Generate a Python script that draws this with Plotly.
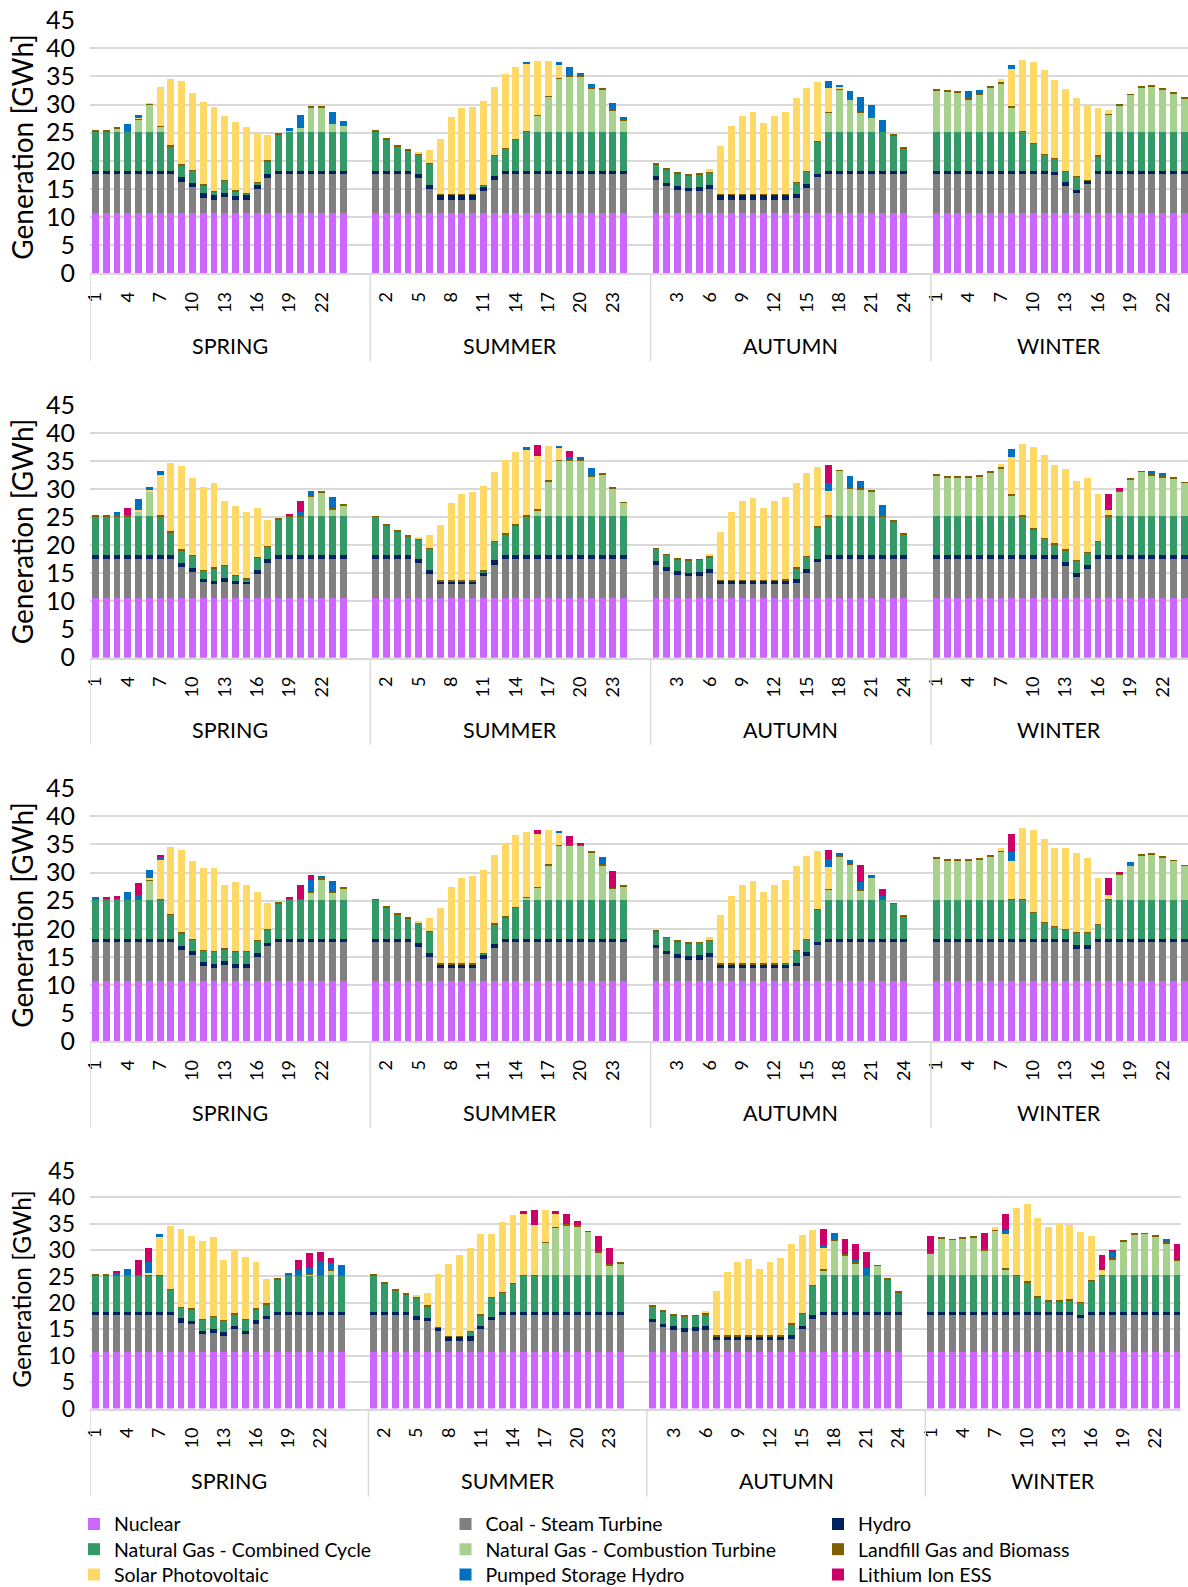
import plotly.graph_objects as go

FONT = "Lato"
SEASONS = ["SPRING", "SUMMER", "AUTUMN", "WINTER"]
HOURS = [1, 2, 3, 4, 5, 6, 7, 8, 9, 10, 11, 12, 13, 14, 15, 16, 17, 18, 19, 20, 21, 22, 23, 24]
SERIES = ["Nuclear", "Coal - Steam Turbine", "Hydro", "Natural Gas - Combined Cycle",
          "Natural Gas - Combustion Turbine", "Landfill Gas and Biomass",
          "Solar Photovoltaic", "Pumped Storage Hydro", "Lithium Ion ESS"]
COLORS = ["#CC66FF", "#808080", "#002060", "#339966", "#A9D18E", "#7F6000",
          "#FFD966", "#0070C0", "#CC0066"]

# ---------------- data (GWh), 96 values = 4 seasons x 24 hours ----------------
NUCLEAR = [
    10.7, 10.7, 10.7, 10.7, 10.7, 10.7, 10.7, 10.7, 10.7, 10.7, 10.7, 10.7, 10.7, 10.7, 10.7, 10.7, 10.7, 10.7, 10.7, 10.7, 10.7, 10.7, 10.7, 10.7,
    10.7, 10.7, 10.7, 10.7, 10.7, 10.7, 10.7, 10.7, 10.7, 10.7, 10.7, 10.7, 10.7, 10.7, 10.7, 10.7, 10.7, 10.7, 10.7, 10.7, 10.7, 10.7, 10.7, 10.7,
    10.7, 10.7, 10.7, 10.7, 10.7, 10.7, 10.7, 10.7, 10.7, 10.7, 10.7, 10.7, 10.7, 10.7, 10.7, 10.7, 10.7, 10.7, 10.7, 10.7, 10.7, 10.7, 10.7, 10.7,
    10.7, 10.7, 10.7, 10.7, 10.7, 10.7, 10.7, 10.7, 10.7, 10.7, 10.7, 10.7, 10.7, 10.7, 10.7, 10.7, 10.7, 10.7, 10.7, 10.7, 10.7, 10.7, 10.7, 10.7,
]
LANDFILL = [
    .15, .15, .15, .15, .15, .15, .15, .15, .15, .15, .15, .15, .15, .15, .15, .15, .15, .15, .15, .15, .15, .15, .15, .15,
    .15, .15, .15, .15, .15, .15, .15, .15, .15, .15, .15, .15, .15, .15, .15, .15, .15, .15, .15, .15, .15, .15, .15, .15,
    .15, .15, .15, .15, .15, .15, .15, .15, .15, .15, .15, .15, .15, .15, .15, .15, .15, .15, .15, .15, .15, .15, .15, .15,
    .15, .15, .15, .15, .15, .15, .15, .15, .15, .15, .15, .15, .15, .15, .15, .15, .15, .15, .15, .15, .15, .15, .15, .15,
]

# ---- Panel 1 ----
P1_COAL = [
    6.95, 6.95, 6.95, 6.95, 6.95, 6.95, 6.95, 6.95, 5.55, 4.6, 2.75, 2.3, 2.8, 2.3, 2.3, 4.2, 6.2, 6.95, 6.95, 6.95, 6.95, 6.95, 6.95, 6.95,
    6.95, 6.95, 6.95, 6.95, 6.2, 4.3, 2.4, 2.4, 2.4, 2.4, 3.9, 5.8, 6.95, 6.95, 6.95, 6.95, 6.95, 6.95, 6.95, 6.95, 6.95, 6.95, 6.95, 6.95,
    5.8, 4.8, 4.1, 3.9, 3.9, 4.3, 2.4, 2.4, 2.4, 2.4, 2.4, 2.4, 2.4, 2.6, 4.4, 6.4, 6.95, 6.95, 6.95, 6.95, 6.95, 6.95, 6.95, 6.95,
    6.95, 6.95, 6.95, 6.95, 6.95, 6.95, 6.95, 6.95, 6.95, 6.95, 6.95, 6.7, 4.8, 3.5, 5.1, 6.95, 6.95, 6.95, 6.95, 6.95, 6.95, 6.95, 6.95, 6.95,
]
P1_HYDRO = [
    .6, .6, .6, .6, .6, .6, .6, .6, .85, .7, .75, .9, .7, .8, .9, .8, .8, .6, .6, .6, .6, .6, .6, .6,
    .6, .6, .6, .6, .7, .7, .8, .8, .8, .8, .8, .8, .6, .6, .6, .6, .6, .6, .6, .6, .6, .6, .6, .6,
    .7, .6, .7, .6, .75, .7, .8, .8, .8, .8, .8, .8, .8, .7, .8, .6, .6, .6, .6, .6, .6, .6, .6, .6,
    .6, .6, .6, .6, .6, .6, .6, .6, .6, .6, .6, .6, .75, .6, .7, .6, .6, .6, .6, .6, .6, .6, .6, .6,
]
P1_NGCC = [
    6.95, 6.95, 6.95, 6.95, 6.95, 6.95, 6.95, 4.35, 2.1, 2.2, 1.45, .6, 2.3, .8, .2, .4, 2.2, 6.35, 6.95, 6.95, 6.95, 6.95, 6.95, 6.95,
    6.95, 5.5, 4.3, 3.55, 3.5, 3.8, 0, 0, 0, 0, .1, 3.6, 3.85, 5.5, 6.95, 6.95, 6.95, 6.95, 6.95, 6.95, 6.95, 6.95, 6.95, 6.95,
    2.2, 2.3, 2.2, 2.2, 2.15, 2.15, 0, 0, 0, 0, 0, 0, .1, 2.1, 2.1, 5.7, 6.95, 6.95, 6.95, 6.95, 6.95, 6.95, 6.25, 3.95,
    6.95, 6.95, 6.95, 6.95, 6.95, 6.95, 6.95, 6.95, 6.95, 4.75, 2.85, 2.3, 1.85, 2.3, 0, 2.55, 6.95, 6.95, 6.95, 6.95, 6.95, 6.95, 6.95, 6.95,
]
P1_NGCT = [
    0, 0, .5, 0, 2.1, 4.8, .8, 0, 0, 0, 0, 0, 0, 0, 0, 0, 0, 0, .1, .7, 4.2, 4.2, 1.4, 1.05,
    0, 0, 0, 0, 0, 0, 0, 0, 0, 0, 0, 0, 0, 0, 0, 2.8, 6.2, 9.4, 9.85, 9.85, 7.7, 7.4, 3.8, 1.9,
    0, 0, 0, 0, 0, 0, 0, 0, 0, 0, 0, 0, 0, 0, 0, 0, 3.3, 7.4, 5.6, 3.4, 2.5, 0, 0, 0,
    7.3, 7.05, 6.9, 5.75, 6.6, 7.8, 8.6, 4.3, 0, 0, 0, 0, 0, 0, 0, 0, 3.0, 4.6, 6.5, 7.8, 8.0, 7.5, 6.8, 5.9,
]
P1_SOLAR = [
    0, 0, 0, 0, .2, .1, 7.05, 11.85, 14.85, 13.65, 14.7, 14.85, 11.25, 12.15, 11.75, 8.65, 4.55, 0, 0, 0, 0, 0, 0, 0,
    0, 0, 0, 0, .25, 2.2, 9.85, 13.65, 15.25, 15.55, 15.0, 12.1, 13.1, 12.8, 11.9, 9.55, 6.15, 2.25, 0, 0, 0, 0, 0, 0,
    0, 0, 0, 0, 0, .5, 8.5, 12.05, 13.95, 14.55, 12.65, 13.95, 14.6, 14.95, 14.85, 10.45, 4.25, .3, 0, 0, 0, 0, 0, 0,
    0, 0, 0, 0, 0, 0, .65, 6.6, 12.65, 14.45, 14.85, 13.85, 14.45, 13.95, 13.35, 8.35, .75, 0, 0, 0, 0, 0, 0, 0,
]
P1_PSH = [
    0, 0, 0, 1.2, .55, 0, 0, 0, 0, 0, 0, 0, 0, 0, 0, 0, 0, 0, .35, 2.0, 0, 0, 1.85, .75,
    0, 0, 0, 0, 0, 0, 0, 0, 0, 0, 0, 0, 0, 0, .15, 0, 0, .55, 1.5, .45, .65, 0, 1.15, .55,
    0, 0, 0, 0, 0, 0, 0, 0, 0, 0, 0, 0, 0, 0, 0, 0, 1.3, .5, 1.45, 2.6, 2.05, 1.95, 0, 0,
    0, 0, 0, 1.3, .55, 0, 0, .75, 0, 0, 0, 0, 0, 0, 0, 0, 0, 0, 0, 0, 0, 0, 0, 0,
]
P1_LI = [
    0, 0, 0, 0, 0, 0, 0, 0, 0, 0, 0, 0, 0, 0, 0, 0, 0, 0, 0, 0, 0, 0, 0, 0,
    0, 0, 0, 0, 0, 0, 0, 0, 0, 0, 0, 0, 0, 0, 0, 0, 0, 0, 0, 0, 0, 0, 0, 0,
    0, 0, 0, 0, 0, 0, 0, 0, 0, 0, 0, 0, 0, 0, 0, 0, 0, 0, 0, 0, 0, 0, 0, 0,
    0, 0, 0, 0, 0, 0, 0, 0, 0, 0, 0, 0, 0, 0, 0, 0, 0, 0, 0, 0, 0, 0, 0, 0,
]

# ---- Panel 2 ----
P2_COAL = [
    6.95, 6.95, 6.95, 6.95, 6.95, 6.95, 6.95, 6.95, 5.5, 4.55, 2.7, 2.35, 2.8, 2.35, 2.35, 4.2, 6.1, 6.95, 6.95, 6.95, 6.95, 6.95, 6.95, 6.95,
    6.95, 6.95, 6.95, 6.95, 6.1, 4.2, 2.35, 2.35, 2.35, 2.35, 3.9, 5.75, 6.95, 6.95, 6.95, 6.95, 6.95, 6.95, 6.95, 6.95, 6.95, 6.95, 6.95, 6.95,
    5.8, 4.8, 4.1, 3.85, 3.85, 4.3, 2.35, 2.35, 2.35, 2.35, 2.35, 2.35, 2.35, 2.6, 4.35, 6.3, 6.95, 6.95, 6.95, 6.95, 6.95, 6.95, 6.95, 6.95,
    6.95, 6.95, 6.95, 6.95, 6.95, 6.95, 6.95, 6.95, 6.95, 6.95, 6.95, 6.95, 5.6, 3.7, 5.1, 6.95, 6.95, 6.95, 6.95, 6.95, 6.95, 6.95, 6.95, 6.95,
]
P2_HYDRO = [
    .6, .6, .6, .6, .6, .6, .6, .6, .7, .75, .65, .65, .6, .65, .65, .75, .7, .6, .6, .6, .6, .6, .6, .6,
    .6, .6, .6, .6, .7, .7, .65, .65, .65, .65, .7, .85, .6, .6, .6, .6, .6, .6, .6, .6, .6, .6, .6, .6,
    .65, .6, .6, .6, .7, .7, .7, .7, .7, .7, .7, .7, .7, .65, .8, .55, .6, .6, .6, .6, .6, .6, .6, .6,
    .6, .6, .6, .6, .6, .6, .6, .6, .6, .6, .6, .6, .7, .75, .65, .6, .6, .6, .6, .6, .6, .6, .6, .6,
]
P2_NGCC = [
    6.95, 6.95, 6.95, 6.95, 6.95, 6.95, 6.95, 4.15, 2.3, 2.2, 1.45, 2.3, 2.3, .95, .3, 2.15, 2.3, 6.35, 6.95, 6.95, 6.95, 6.95, 6.95, 6.95,
    6.85, 5.35, 4.25, 3.45, 3.55, 3.85, 0, 0, 0, 0, .1, 3.4, 3.75, 5.35, 6.95, 6.95, 6.95, 6.95, 6.95, 6.95, 6.95, 6.95, 6.95, 6.95,
    2.25, 2.25, 2.2, 2.2, 2.2, 2.2, 0, 0, 0, 0, 0, 0, .1, 2.05, 2.15, 5.75, 6.95, 6.95, 6.95, 6.95, 6.95, 6.95, 6.05, 3.75,
    6.95, 6.95, 6.95, 6.95, 6.95, 6.95, 6.95, 6.95, 6.95, 4.65, 2.95, 1.95, 2.2, 2.15, 2.25, 2.4, 6.95, 6.95, 6.95, 6.95, 6.95, 6.95, 6.95, 6.95,
]
P2_NGCT = [
    0, 0, 0, 0, .8, 4.35, 0, 0, 0, 0, 0, 0, 0, 0, 0, 0, 0, 0, 0, 0, 3.6, 4.25, 1.2, 1.9,
    0, 0, 0, 0, 0, 0, 0, 0, 0, 0, 0, 0, 0, 0, 0, 1.1, 6.25, 9.9, 9.9, 9.9, 7.15, 7.5, 5.05, 2.4,
    0, 0, 0, 0, 0, 0, 0, 0, 0, 0, 0, 0, 0, 0, 0, 0, 0, 8.1, 5.05, 4.8, 4.5, 0, 0, 0,
    7.3, 7.0, 6.9, 6.95, 7.15, 7.85, 8.55, 3.7, 0, 0, 0, 0, 0, 0, 0, 0, 0, 4.5, 6.6, 7.9, 7.3, 7.0, 6.7, 5.95,
]
P2_SOLAR = [
    0, 0, 0, 0, .1, .2, 7.15, 12.05, 14.75, 13.55, 14.8, 14.85, 11.35, 12.2, 11.75, 8.7, 4.55, 0, 0, 0, 0, 0, 0, 0,
    0, 0, 0, 0, .2, 2.25, 9.85, 13.7, 15.3, 15.6, 15.05, 12.2, 13.05, 12.85, 11.75, 9.45, 6.15, 2.2, 0, 0, 0, 0, 0, 0,
    0, 0, 0, 0, 0, .4, 8.55, 12.0, 13.95, 14.6, 12.7, 14.0, 14.6, 15.0, 14.65, 10.45, 4.35, 0, 0, 0, 0, 0, 0, 0,
    0, 0, 0, 0, 0, 0, .65, 6.6, 12.7, 14.45, 14.75, 13.9, 14.25, 14.0, 13.2, 8.4, .95, 0, 0, 0, 0, 0, 0, 0,
]
P2_PSH = [
    0, 0, .5, 0, 1.95, .45, .7, 0, 0, 0, 0, 0, 0, 0, 0, 0, 0, 0, 0, .65, .75, 0, 2.05, 0,
    0, 0, 0, 0, 0, 0, 0, 0, 0, 0, 0, 0, 0, 0, .35, 0, 0, .15, .5, .4, 1.2, 0, 0, 0,
    0, 0, 0, 0, 0, 0, 0, 0, 0, 0, 0, 0, 0, 0, 0, 0, 1.45, 0, 2.0, 1.25, 0, 1.85, 0, 0,
    0, 0, 0, 0, 0, 0, 0, 1.45, 0, 0, 0, 0, 0, 0, 0, 0, 0, 0, 0, 0, .65, .55, 0, 0,
]
P2_LI = [
    0, 0, 0, 1.3, 0, 0, 0, 0, 0, 0, 0, 0, 0, 0, 0, 0, 0, 0, .3, 1.95, 0, 0, 0, 0,
    0, 0, 0, 0, 0, 0, 0, 0, 0, 0, 0, 0, 0, 0, 0, 1.9, 0, 0, 1.05, 0, 0, 0, 0, 0,
    0, 0, 0, 0, 0, 0, 0, 0, 0, 0, 0, 0, 0, 0, 0, 0, 3.1, 0, 0, 0, 0, 0, 0, 0,
    0, 0, 0, 0, 0, 0, 0, 0, 0, 0, 0, 0, 0, 0, 0, 0, 2.85, .3, 0, 0, 0, 0, 0, 0,
]

# ---- Panel 3 ----
P3_COAL = [
    6.95, 6.95, 6.95, 6.95, 6.95, 6.95, 6.95, 6.95, 5.5, 4.55, 2.65, 2.25, 2.85, 2.25, 2.25, 4.2, 6.2, 6.95, 6.95, 6.95, 6.95, 6.95, 6.95, 6.95,
    6.95, 6.95, 6.95, 6.95, 6.1, 4.2, 2.25, 2.25, 2.25, 2.25, 3.9, 5.8, 6.95, 6.95, 6.95, 6.95, 6.95, 6.95, 6.95, 6.95, 6.95, 6.95, 6.95, 6.95,
    5.8, 4.75, 4.05, 3.8, 3.8, 4.2, 2.25, 2.25, 2.25, 2.25, 2.25, 2.25, 2.25, 2.6, 4.4, 6.35, 6.95, 6.95, 6.95, 6.95, 6.95, 6.95, 6.95, 6.95,
    6.95, 6.95, 6.95, 6.95, 6.95, 6.95, 6.95, 6.95, 6.95, 6.95, 6.95, 6.95, 6.95, 5.65, 5.65, 6.95, 6.95, 6.95, 6.95, 6.95, 6.95, 6.95, 6.95, 6.95,
]
P3_HYDRO = [
    .6, .6, .6, .6, .6, .6, .6, .6, .75, .75, .75, .7, .65, .7, .7, .8, .55, .6, .6, .6, .6, .6, .6, .6,
    .6, .6, .6, .6, .7, .8, .75, .75, .75, .75, .8, .8, .6, .6, .6, .6, .6, .6, .6, .6, .6, .6, .6, .6,
    .6, .6, .8, .65, .8, .85, .75, .75, .75, .75, .75, .75, .75, .65, .75, .6, .6, .6, .6, .6, .6, .6, .6, .6,
    .6, .6, .6, .6, .6, .6, .6, .6, .6, .6, .6, .6, .6, .75, .75, .6, .6, .6, .6, .6, .6, .6, .6, .6,
]
P3_NGCC = [
    6.95, 6.95, 6.95, 6.95, 6.95, 6.95, 6.95, 4.2, 2.25, 2.1, 2.05, 2.25, 2.15, 2.25, 2.25, 2.1, 2.4, 6.3, 6.95, 6.95, 6.95, 6.95, 6.95, 6.95,
    6.85, 5.45, 4.25, 3.55, 3.5, 3.8, 0, 0, 0, 0, .1, 3.5, 3.8, 5.45, 6.95, 6.95, 6.95, 6.95, 6.95, 6.95, 6.95, 6.95, 6.95, 6.95,
    2.35, 2.3, 2.1, 2.2, 2.15, 2.15, 0, 0, 0, 0, 0, 0, .1, 2.1, 2.15, 5.7, 6.95, 6.95, 6.95, 6.95, 6.95, 6.95, 6.15, 3.85,
    6.95, 6.95, 6.95, 6.95, 6.95, 6.95, 6.95, 6.95, 6.95, 4.55, 2.85, 2.05, 1.65, 2.2, 2.2, 2.45, 6.95, 6.95, 6.95, 6.95, 6.95, 6.95, 6.95, 6.95,
]
P3_NGCT = [
    0, 0, 0, 0, 0, 3.4, 0, 0, 0, 0, 0, 0, 0, 0, 0, 0, 0, 0, 0, 0, 1.25, 3.6, 1.25, 1.95,
    0, 0, 0, 0, 0, 0, 0, 0, 0, 0, 0, 0, 0, 0, .3, 2.15, 6.1, 9.6, 9.6, 9.55, 8.35, 6.1, 1.95, 2.3,
    0, 0, 0, 0, 0, 0, 0, 0, 0, 0, 0, 0, 0, 0, 0, 0, 1.7, 7.55, 6.15, 1.65, 3.95, 0, 0, 0,
    7.3, 7.0, 6.9, 7.0, 7.1, 7.7, 8.5, 0, 0, 0, 0, 0, 0, 0, 0, 0, 0, 4.45, 5.95, 7.8, 8.0, 7.5, 6.85, 5.95,
]
P3_SOLAR = [
    0, 0, 0, 0, 0, .3, 6.9, 11.9, 14.75, 13.75, 14.6, 14.85, 11.3, 12.25, 11.7, 8.65, 4.55, 0, 0, 0, 0, 0, 0, 0,
    0, 0, 0, 0, .3, 2.2, 9.9, 13.65, 15.25, 15.55, 14.9, 12.15, 13.1, 12.85, 11.5, 9.35, 6.1, 2.2, 0, 0, 0, 0, 0, 0,
    0, 0, 0, 0, 0, .45, 8.55, 12.05, 14.0, 14.6, 12.75, 14.0, 14.7, 14.95, 14.75, 10.35, 4.0, 0, 0, 0, 0, 0, 0, 0,
    0, 0, 0, 0, 0, 0, .5, 6.65, 12.6, 14.6, 14.8, 13.85, 14.4, 14.0, 13.15, 8.25, .75, 0, 0, 0, 0, 0, 0, 0,
]
P3_PSH = [
    .1, 0, 0, 1.2, .6, 1.35, .6, 0, 0, 0, 0, 0, 0, 0, 0, 0, 0, 0, 0, 0, 2.1, .45, 1.9, 0,
    0, 0, 0, 0, 0, 0, 0, 0, 0, 0, 0, 0, 0, 0, 0, 0, 0, .25, 0, 0, 0, 1.4, 0, 0,
    0, 0, 0, 0, 0, 0, 0, 0, 0, 0, 0, 0, 0, 0, 0, 0, 1.4, .5, .7, 1.4, .35, .4, 0, 0,
    0, 0, 0, 0, 0, 0, 0, 1.75, 0, 0, 0, 0, 0, 0, 0, 0, 0, 0, .65, 0, 0, 0, 0, 0,
]
P3_LI = [
    0, .1, .45, 0, 2.25, 0, .25, 0, 0, 0, 0, 0, 0, 0, 0, 0, 0, 0, .25, 2.5, .9, 0, 0, 0,
    0, 0, 0, 0, 0, 0, 0, 0, 0, 0, 0, 0, 0, 0, 0, .75, 0, 0, 1.55, .4, 0, 0, 3.0, 0,
    0, 0, 0, 0, 0, 0, 0, 0, 0, 0, 0, 0, 0, 0, 0, 0, 1.65, 0, 0, 2.9, 0, 1.3, 0, 0,
    0, 0, 0, 0, 0, 0, 0, 3.15, 0, 0, 0, 0, 0, 0, 0, 0, 2.9, .3, 0, 0, 0, 0, 0, 0,
]

# ---- Panel 4 ----
P4_COAL = [
    6.95, 6.95, 6.95, 6.95, 6.95, 6.95, 6.95, 6.95, 5.55, 5.25, 3.35, 3.65, 3.1, 4.3, 3.35, 5.25, 6.2, 6.95, 6.95, 6.95, 6.95, 6.95, 6.95, 6.95,
    6.95, 6.95, 6.95, 6.95, 6.15, 5.8, 3.9, 2.15, 2.15, 2.15, 4.3, 6.0, 6.95, 6.95, 6.95, 6.95, 6.95, 6.95, 6.95, 6.95, 6.95, 6.95, 6.95, 6.95,
    5.7, 4.8, 4.25, 3.8, 3.9, 4.25, 2.2, 2.2, 2.2, 2.2, 2.2, 2.2, 2.2, 2.5, 4.35, 6.3, 6.95, 6.95, 6.95, 6.95, 6.95, 6.95, 6.95, 6.95,
    6.95, 6.95, 6.95, 6.95, 6.95, 6.95, 6.95, 6.95, 6.95, 6.95, 6.95, 6.95, 6.95, 6.95, 6.45, 6.95, 6.95, 6.95, 6.95, 6.95, 6.95, 6.95, 6.95, 6.95,
]
P4_HYDRO = [
    .6, .6, .6, .6, .6, .6, .6, .6, .85, .7, .65, .75, .7, .55, .7, .75, .7, .6, .6, .6, .6, .6, .6, .6,
    .6, .6, .6, .6, .7, .7, .75, .8, .8, .8, .6, .7, .6, .6, .6, .6, .6, .6, .6, .6, .6, .6, .6, .6,
    .6, .6, .6, .7, .75, .65, .85, .85, .85, .85, .85, .85, .85, .65, .65, .65, .6, .6, .6, .6, .6, .6, .6, .6,
    .6, .6, .6, .6, .6, .6, .6, .6, .6, .6, .6, .6, .6, .6, .6, .6, .6, .6, .6, .6, .6, .6, .6, .6,
]
P4_NGCC = [
    6.95, 6.95, 6.95, 6.95, 6.95, 6.95, 6.95, 4.3, 2.0, 2.15, 2.2, 2.35, 2.15, 2.3, 2.15, 2.1, 2.25, 6.2, 6.95, 6.95, 6.95, 6.95, 6.95, 6.95,
    6.95, 5.45, 4.25, 3.45, 3.55, 2.2, 0, 0, 0, .95, 2.1, 3.6, 3.75, 5.45, 6.95, 6.95, 6.95, 6.95, 6.95, 6.95, 6.95, 6.95, 6.95, 6.95,
    2.4, 2.3, 2.2, 2.25, 2.25, 2.25, 0, 0, 0, 0, 0, 0, 0, 2.15, 2.3, 5.65, 6.95, 6.95, 6.95, 6.95, 6.95, 6.95, 6.2, 3.85,
    6.95, 6.95, 6.95, 6.95, 6.95, 6.95, 6.95, 6.95, 6.95, 5.75, 2.85, 2.15, 2.15, 2.3, 2.3, 6.0, 6.95, 6.95, 6.95, 6.95, 6.95, 6.95, 6.95, 6.95,
]
P4_NGCT = [
    0, 0, 0, 0, 0, 0, 0, 0, 0, 0, 0, 0, 0, 0, 0, 0, 0, 0, 0, 0, .3, 0, 1.0, 0,
    0, 0, 0, 0, 0, 0, 0, 0, 0, 0, 0, 0, 0, 0, 0, 0, 6.2, 9.1, 9.5, 9.4, 8.3, 4.4, 1.95, 2.3,
    0, 0, 0, 0, 0, 0, 0, 0, 0, 0, 0, 0, 0, 0, 0, 0, 1.0, 6.7, 3.9, 2.4, 0, 1.85, 0, 0,
    4.15, 7.05, 6.8, 7.05, 7.2, 4.8, 8.5, 1.2, 0, 0, 0, 0, 0, 0, 0, 0, 0, 3.15, 6.5, 7.8, 7.9, 7.45, 6.1, 2.85,
]
P4_SOLAR = [
    0, 0, 0, 0, 0, .35, 7.15, 11.9, 14.75, 13.7, 14.7, 14.8, 11.25, 12.05, 11.7, 8.7, 4.6, 0, 0, 0, 0, 0, 0, 0,
    0, 0, 0, 0, .15, 2.35, 9.95, 13.6, 15.2, 15.55, 15.15, 11.95, 13.15, 12.85, 11.55, 9.3, 6.05, 2.45, 0, 0, 0, 0, 0, 0,
    0, 0, 0, 0, 0, .45, 8.35, 11.9, 13.9, 14.45, 12.5, 13.9, 14.65, 14.95, 14.7, 10.4, 4.05, 0, 0, 0, 0, 0, 0, 0,
    0, 0, 0, 0, 0, 0, .5, 6.55, 12.6, 14.55, 14.85, 13.8, 14.45, 13.95, 13.25, 8.35, .8, 0, 0, 0, 0, 0, 0, 0,
]
P4_PSH = [
    0, 0, .5, 1.1, 0, 2.0, .55, 0, 0, 0, 0, 0, 0, 0, 0, 0, 0, 0, .35, .95, 1.0, 2.55, 1.25, 1.9,
    0, 0, 0, 0, 0, 0, 0, 0, 0, 0, 0, 0, 0, 0, 0, 0, 0, 0, 0, 0, 0, 0, 0, 0,
    0, 0, 0, 0, 0, 0, 0, 0, 0, 0, 0, 0, 0, 0, 0, 0, .65, 1.2, 0, .4, 1.35, 0, 0, 0,
    0, 0, 0, 0, 0, 0, 0, .7, 0, 0, 0, 0, 0, 0, 0, 0, 0, 1.25, 0, 0, 0, 0, .6, 0,
]
P4_LI = [
    0, 0, .1, 0, 2.8, 2.7, 0, 0, 0, 0, 0, 0, 0, 0, 0, 0, 0, 0, 0, 1.9, 2.8, 1.65, .95, 0,
    0, 0, 0, 0, 0, 0, 0, 0, 0, 0, 0, 0, 0, 0, .4, 2.95, 0, .45, 1.95, .75, 0, 3.0, 3.0, 0,
    0, 0, 0, 0, 0, 0, 0, 0, 0, 0, 0, 0, 0, 0, 0, 0, 2.95, 0, 2.8, 2.95, 3.0, 0, 0, 0,
    3.15, 0, 0, 0, 0, 3.1, 0, 3.1, 0, 0, 0, 0, 0, 0, 0, 0, 2.85, .15, 0, 0, 0, 0, 0, 2.95,
]

PANELS = [
    [NUCLEAR, P1_COAL, P1_HYDRO, P1_NGCC, P1_NGCT, LANDFILL, P1_SOLAR, P1_PSH, P1_LI],
    [NUCLEAR, P2_COAL, P2_HYDRO, P2_NGCC, P2_NGCT, LANDFILL, P2_SOLAR, P2_PSH, P2_LI],
    [NUCLEAR, P3_COAL, P3_HYDRO, P3_NGCC, P3_NGCT, LANDFILL, P3_SOLAR, P3_PSH, P3_LI],
    [NUCLEAR, P4_COAL, P4_HYDRO, P4_NGCC, P4_NGCT, LANDFILL, P4_SOLAR, P4_PSH, P4_LI],
]
for p in PANELS:
    for arr in p:
        assert len(arr) == 96, len(arr)

# ---------------- layout constants (page pixels) ----------------
W, H = 1188, 1587
ML = 90
SLOTS = 26                      # category slots per season (24 hours + 2 empty)
XMAX = 101.35
YMAX = 45.02
ZERO_PX = [273.2, 657.7, 1041.2, 1408.6]
TOP_PX = [20.2, 404.8, 788.3, 1170.8]
XRIGHT = [1.0, 1.0, 1.0, 0.9934]
SEASON_LABEL_PX = [346.0, 729.6, 1113.1, 1481.4]
DIVIDER_BOTTOM_PX = [361.3, 744.8, 1128.3, 1496.6]
YTICK_SIZE = [25, 25, 25, 23]
YTITLE_SIZE = [28, 28, 28, 24.5]
LEGEND_COL_PX = [74, 445.5, 818]
LEGEND_ROW_TOP_PX = [1504.7, 1530.0, 1555.3]
GRID = "#D9D9D9"
TXT = "#000000"


def py(px):
    return 1 - px / H


def px_x(px):
    return (px - ML) / (W - ML)


XPOS = [s * SLOTS + (h - 1) for s in range(len(SEASONS)) for h in HOURS]
tickvals, ticktext = [], []
for s in range(len(SEASONS)):
    for h in HOURS:
        g = s * SLOTS + h - 1
        if g % 3 == 0:
            tickvals.append(g)
            ticktext.append(str(h))

fig = go.Figure()
for i, panel in enumerate(PANELS):
    ax = "" if i == 0 else str(i + 1)
    for k, (name, vals) in enumerate(zip(SERIES, panel)):
        leg = "legend" if k == 0 else "legend%d" % (k + 1)
        fig.add_trace(go.Bar(
            x=XPOS, y=vals, name=name, marker_color=COLORS[k],
            marker_line_width=0, legendgroup=name, showlegend=(i == 0),
            legend=leg, xaxis="x" + ax, yaxis="y" + ax,
            hovertemplate=name + ": %{y:.2f} GWh<extra></extra>",
        ))

layout = dict(
    width=W, height=H, barmode="stack", bargap=0.36,
    margin=dict(l=ML, r=0, t=0, b=0, autoexpand=False),
    paper_bgcolor="white", plot_bgcolor="white",
    font=dict(family=FONT, color=TXT),
)
shapes, annotations = [], []
for i in range(4):
    ax = "" if i == 0 else str(i + 1)
    # panel 0-45 scale, with the top a hair above 45 so that the 45 gridline is drawn
    top_px = ZERO_PX[i] - (ZERO_PX[i] - TOP_PX[i]) * YMAX / 45.0
    layout["xaxis" + ax] = dict(
        domain=[0, XRIGHT[i]], range=[-0.5, XMAX], anchor="y" + ax,
        tickmode="array", tickvals=tickvals, ticktext=ticktext, tickangle=-90,
        tickfont=dict(family=FONT, size=18, color=TXT), ticklabelstandoff=10,
        showgrid=False, zeroline=False, showline=True, linecolor=GRID, linewidth=1.5,
        ticks="", automargin=False, fixedrange=True,
    )
    layout["yaxis" + ax] = dict(
        domain=[py(ZERO_PX[i]), min(1.0, py(top_px))], range=[0, YMAX], anchor="x" + ax,
        tickmode="array", tickvals=[0, 5, 10, 15, 20, 25, 30, 35, 40, 45],
        showgrid=True, gridcolor=GRID, gridwidth=1.5,
        zeroline=False, showline=False, ticks="", ticklabeloverflow="allow",
        tickfont=dict(family=FONT, size=YTICK_SIZE[i], color=TXT), ticklabelstandoff=14,
        automargin=False, fixedrange=True,
    )
    bounds = [-0.5, SLOTS - 0.5, 2 * SLOTS - 0.5, 3 * SLOTS - 0.5, XMAX]
    for b in bounds[:4]:
        shapes.append(dict(type="line", xref="x" + ax, yref="paper", x0=b, x1=b,
                           y0=py(ZERO_PX[i]), y1=py(DIVIDER_BOTTOM_PX[i]),
                           line=dict(color=GRID, width=1.5)))
    for s, season in enumerate(SEASONS):
        annotations.append(dict(text=season, xref="x" + ax, yref="paper",
                                x=(bounds[s] + bounds[s + 1]) / 2, y=py(SEASON_LABEL_PX[i]),
                                showarrow=False, xanchor="center", yanchor="middle",
                                font=dict(family=FONT, size=21.5, color=TXT)))
    annotations.append(dict(text="Generation [GWh]", xref="paper", yref="paper",
                            x=px_x(22), y=py((ZERO_PX[i] + TOP_PX[i]) / 2), textangle=-90,
                            showarrow=False, xanchor="center", yanchor="middle",
                            font=dict(family=FONT, size=YTITLE_SIZE[i], color=TXT)))

for k in range(len(SERIES)):
    row, col = divmod(k, 3)
    key = "legend" if k == 0 else "legend%d" % (k + 1)
    layout[key] = dict(
        x=px_x(LEGEND_COL_PX[col]), y=py(LEGEND_ROW_TOP_PX[row]),
        xanchor="left", yanchor="top", orientation="v", traceorder="normal",
        bgcolor="rgba(0,0,0,0)", borderwidth=0, itemwidth=30,
        font=dict(family=FONT, size=19.5, color=TXT),
    )

layout["shapes"] = shapes
layout["annotations"] = annotations
fig.update_layout(**layout)
# the page's default 8px body margin would push the fixed-size figure off the window
fig.write_html("out.html", config={"displayModeBar": False},
               post_script="document.body.style.margin = '0px';")
